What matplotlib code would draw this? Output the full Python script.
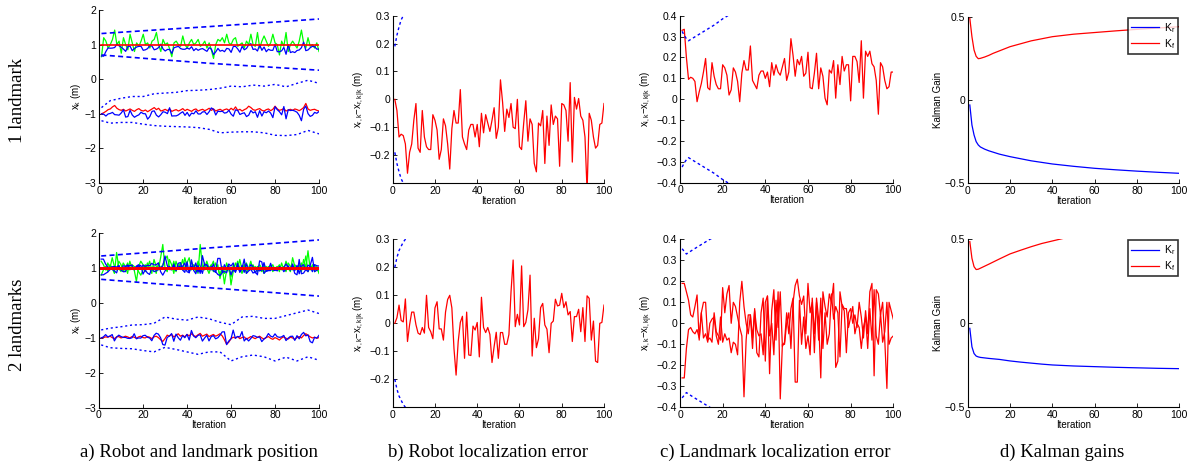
import numpy as np
import matplotlib
matplotlib.use("Agg")
import matplotlib.pyplot as plt

plt.rcParams['font.family'] = ['Liberation Sans', 'DejaVu Sans']
plt.rcParams['mathtext.fontset'] = 'custom'
plt.rcParams['mathtext.rm'] = 'Liberation Sans'
plt.rcParams['mathtext.it'] = 'Liberation Sans:italic'

W, H = 1196, 472
it = np.arange(1, 101)

# ---------------- 1 landmark ----------------
meas_1 = [0.65, 1.20, 1.10, 0.90, 1.00, 1.15, 1.42, 1.00, 1.10, 0.75,
          1.20, 1.00, 0.85, 1.30, 1.05, 0.80, 1.05, 0.95, 1.10, 1.30,
          1.00, 1.05, 0.90, 1.10, 1.15, 1.35, 1.00, 0.80, 1.15, 1.00,
          1.05, 0.88, 0.65, 1.05, 1.10, 1.00, 0.95, 1.25, 1.00, 0.90,
          1.05, 1.15, 1.00, 1.05, 1.15, 0.95, 1.00, 1.10, 0.90, 1.05,
          0.85, 0.60, 1.00, 1.15, 1.10, 1.20, 1.05, 1.30, 1.05, 1.00,
          1.15, 1.20, 0.95, 1.00, 1.05, 0.90, 1.10, 1.00, 1.30, 1.00,
          0.95, 1.35, 0.90, 1.10, 1.25, 1.10, 0.95, 1.05, 1.30, 1.05,
          1.00, 0.70, 1.10, 0.95, 1.35, 0.80, 1.00, 1.10, 1.00, 0.90,
          1.10, 1.42, 1.05, 0.90, 1.20, 0.95, 1.00, 0.90, 1.05, 0.80]

robot_true_1 = [-1.00, -0.97, -0.93, -0.88, -0.86, -0.80, -0.76, -0.84, -0.88, -0.90,
                -0.87, -0.92, -0.89, -0.86, -0.90, -0.93, -0.88, -0.85, -0.90, -0.92,
                -0.89, -0.94, -0.90, -0.86, -0.82, -0.88, -0.84, -0.92, -0.90, -0.87,
                -0.91, -0.86, -0.93, -0.90, -0.88, -0.92, -0.89, -0.85, -0.91, -0.87,
                -0.90, -0.93, -0.88, -0.86, -0.92, -0.89, -0.87, -0.91, -0.88, -0.84,
                -0.90, -0.86, -0.92, -0.89, -0.87, -0.91, -0.88, -0.86, -0.90, -0.84,
                -0.89, -0.80, -0.90, -0.87, -0.92, -0.88, -0.85, -0.78, -0.82, -0.88,
                -0.90, -0.87, -0.85, -0.90, -0.92, -0.88, -0.86, -0.91, -0.87, -0.78,
                -0.86, -0.90, -0.88, -0.85, -0.92, -0.89, -0.87, -0.90, -0.86, -0.88,
                -0.91, -0.87, -0.82, -0.70, -0.86, -0.90, -0.88, -0.87, -0.90, -0.92]

err_robot_1 = [0.0, -0.04, -0.135, -0.125, -0.13, -0.16, -0.265, -0.19, -0.16, -0.075,
               -0.015, -0.175, -0.19, -0.04, -0.135, -0.17, -0.18, -0.18, -0.055, -0.075,
               -0.11, -0.215, -0.18, -0.07, -0.095, -0.16, -0.25, -0.105, -0.04, -0.085,
               -0.085, 0.035, -0.135, -0.16, -0.18, -0.11, -0.09, -0.09, -0.135, -0.09,
               -0.17, -0.05, -0.12, -0.055, -0.085, -0.115, -0.075, -0.03, -0.14, -0.1,
               0.07, -0.01, -0.115, -0.035, -0.065, -0.015, -0.1, -0.105, 0.0, -0.17,
               -0.18, -0.085, -0.005, -0.15, -0.07, -0.09, -0.23, -0.26, -0.085, -0.095,
               -0.04, -0.23, -0.06, -0.165, -0.02, -0.09, -0.06, -0.07, -0.24, -0.015,
               -0.02, -0.04, -0.15, 0.06, -0.225, 0.007, -0.035, 0.003, -0.06, -0.075,
               -0.135, -0.33, -0.05, -0.075, -0.135, -0.175, -0.165, -0.09, -0.085, -0.015]

err_lm_1 = [0.33, 0.335, 0.2, 0.095, 0.105, 0.1, 0.085, -0.012, 0.035, 0.075,
            0.13, 0.195, 0.055, 0.045, 0.175, 0.11, 0.07, 0.05, 0.05, 0.165,
            0.15, 0.115, 0.02, 0.045, 0.15, 0.13, 0.085, -0.012, 0.125, 0.185,
            0.14, 0.14, 0.255, 0.09, 0.07, 0.05, 0.115, 0.135, 0.135, 0.1,
            0.13, 0.06, 0.175, 0.115, 0.165, 0.13, 0.115, 0.155, 0.195, 0.09,
            0.13, 0.29, 0.21, 0.11, 0.19, 0.165, 0.205, 0.11, 0.125, 0.225,
            0.055, 0.05, 0.125, 0.22, 0.05, 0.15, 0.11, 0.005, -0.027, 0.14,
            0.125, 0.185, 0.005, 0.165, 0.07, 0.205, 0.135, 0.165, 0.165, -0.008,
            0.205, 0.205, 0.18, 0.08, 0.28, 0.005, 0.23, 0.205, 0.23, 0.17,
            0.155, 0.09, -0.072, 0.175, 0.155, 0.09, 0.05, 0.06, 0.13, 0.13]

lm_bound_it = [1, 25, 50, 75, 100]
lm_upper_1 = [1.32, 1.42, 1.52, 1.63, 1.74]
lm_lower_1 = [0.70, 0.58, 0.46, 0.36, 0.26]

rb_bound_it = [1, 5, 10, 15, 20, 25, 30, 35, 40, 45, 50, 55, 60, 65, 70, 75, 80, 85, 90, 95, 100]
rb_upper_1 = [-0.82, -0.62, -0.55, -0.50, -0.50, -0.42, -0.40, -0.38, -0.33, -0.32, -0.30,
              -0.26, -0.20, -0.22, -0.17, -0.20, -0.15, -0.22, -0.12, -0.03, -0.12]
rb_lower_1 = [-1.20, -1.27, -1.25, -1.25, -1.30, -1.34, -1.36, -1.37, -1.38, -1.40, -1.45,
              -1.55, -1.53, -1.52, -1.52, -1.55, -1.62, -1.63, -1.60, -1.48, -1.58]

sig_rb_it_1 = [1, 2, 3, 4, 5, 6, 7]
sig_rb_1 = [0.19, 0.23, 0.26, 0.285, 0.30, 0.31, 0.32]
sig_lm_it_1 = [1, 2, 3, 4, 8, 12, 16, 20, 24]
sig_lm_1 = [0.325, 0.305, 0.29, 0.28, 0.305, 0.33, 0.355, 0.385, 0.41]

gain_it_1 = [1, 2, 3, 4, 5, 6, 8, 10, 12, 15, 20, 30, 40, 50, 60, 70, 80, 90, 100]
k_r_1 = [-0.03, -0.15, -0.21, -0.25, -0.27, -0.282, -0.295, -0.305, -0.313, -0.325, -0.34,
         -0.365, -0.384, -0.398, -0.41, -0.419, -0.427, -0.434, -0.44]
k_f_1 = [0.49, 0.38, 0.30, 0.262, 0.248, 0.25, 0.258, 0.268, 0.28, 0.295, 0.32,
         0.355, 0.38, 0.395, 0.405, 0.415, 0.424, 0.432, 0.44]

# ---------------- 2 landmarks ----------------
meas_2a = [0.80, 0.95, 1.05, 0.90, 1.10, 1.00, 0.85, 1.45, 1.00, 0.90,
           1.15, 1.05, 0.85, 1.20, 1.00, 0.95, 0.62, 1.05, 1.20, 1.10,
           0.90, 1.15, 1.00, 0.85, 1.25, 1.05, 0.95, 1.30, 1.68, 1.00,
           0.90, 1.25, 1.10, 0.85, 1.20, 1.00, 1.15, 0.95, 1.30, 1.05,
           0.90, 1.20, 1.00, 1.10, 0.85, 1.68, 1.05, 0.95, 1.20, 1.00,
           1.10, 0.90, 1.15, 1.00, 0.80, 1.05, 0.55, 0.95, 1.10, 0.52,
           0.90, 1.15, 1.00, 1.25, 0.95, 1.10, 0.85, 1.00, 1.20, 0.95,
           1.05, 0.90, 1.10, 1.00, 0.85, 1.05, 0.95, 1.10, 0.90, 1.00,
           1.05, 0.90, 1.15, 0.95, 1.20, 1.00, 0.90, 1.30, 1.05, 0.95,
           1.10, 0.90, 1.25, 1.00, 1.50, 0.95, 1.10, 0.90, 1.05, 0.85]
meas_2b = [1.20, 1.10, 0.95, 1.15, 1.00, 1.30, 1.05, 0.95, 1.20, 1.10,
           0.90, 1.00, 1.15, 0.95, 1.10, 1.05, 1.00, 0.90, 0.80, 0.95,
           1.10, 1.00, 1.20, 0.95, 1.05, 0.85, 1.15, 1.00, 1.10, 1.25,
           1.35, 1.05, 0.95, 1.20, 0.90, 1.10, 1.00, 1.25, 0.95, 1.15,
           1.30, 0.95, 1.10, 0.90, 1.20, 1.05, 0.95, 1.15, 1.00, 0.85,
           1.05, 1.20, 0.90, 1.10, 0.70, 1.00, 0.85, 1.15, 0.95, 0.75,
           1.10, 0.95, 1.20, 1.00, 0.85, 1.05, 1.15, 0.95, 1.00, 1.10,
           0.95, 1.05, 1.00, 0.90, 1.10, 0.95, 1.05, 1.00, 1.10, 0.95,
           1.00, 1.10, 0.95, 1.05, 0.90, 1.15, 1.05, 0.95, 1.10, 1.00,
           0.95, 1.15, 1.00, 1.35, 0.90, 1.05, 1.00, 1.10, 0.95, 0.90]

robot_true_2 = [-1.00, -0.99, -0.97, -0.98, -0.95, -0.99, -1.02, -0.97, -0.96, -1.00,
                -0.98, -0.95, -0.97, -1.00, -0.96, -0.98, -1.01, -0.97, -0.95, -0.99,
                -1.00, -0.96, -0.98, -1.02, -0.97, -0.95, -0.99, -1.05, -1.10, -1.02,
                -0.92, -0.95, -0.90, -0.97, -0.93, -0.88, -0.95, -0.92, -0.97, -0.90,
                -0.94, -0.88, -0.93, -0.96, -0.91, -0.87, -0.95, -0.92, -0.89, -0.96,
                -0.93, -0.90, -0.95, -0.92, -0.88, -0.94, -1.05, -1.18, -1.12, -1.02,
                -0.98, -1.00, -0.96, -1.02, -0.99, -0.97, -1.03, -1.00, -0.96, -0.99,
                -1.02, -0.98, -0.95, -1.00, -1.03, -0.99, -0.96, -1.01, -1.04, -0.99,
                -1.02, -1.06, -1.00, -0.97, -1.01, -1.03, -0.98, -1.00, -1.04, -0.99,
                -0.96, -1.00, -0.93, -0.88, -0.92, -0.97, -1.00, -0.98, -1.01, -0.99]

err_robot_2 = [0.0, 0.02, 0.065, 0.01, 0.005, 0.087, -0.065, -0.005, 0.04, 0.04,
               -0.005, -0.035, -0.04, -0.015, -0.035, 0.1, -0.015, -0.03, -0.055, 0.055,
               0.077, -0.02, -0.02, -0.06, 0.04, 0.085, 0.1, 0.055, -0.09, -0.185,
               -0.065, 0.003, 0.025, -0.125, 0.04, -0.113, -0.115, -0.01, -0.024, 0.003,
               -0.12, 0.093, -0.015, -0.033, -0.015, -0.04, -0.14, -0.083, -0.032, -0.125,
               -0.033, -0.033, -0.075, -0.075, -0.04, 0.113, 0.226, -0.012, 0.032, -0.006,
               0.205, -0.012, 0.003, 0.048, 0.172, -0.117, 0.018, -0.087, -0.056, 0.056,
               0.071, -0.006, -0.021, -0.105, 0.0, 0.008, 0.086, 0.062, 0.065, 0.107,
               0.056, 0.077, 0.03, 0.042, -0.065, 0.024, 0.024, 0.05, -0.03, 0.056,
               -0.065, 0.098, 0.089, -0.06, 0.008, -0.135, -0.14, 0.0, 0.003, 0.065]

err_lm_2a = [0.19, 0.19, 0.15, 0.11, 0.04, 0.03, 0.08, 0.135, -0.08, 0.05,
             0.10, 0.10, -0.08, -0.07, -0.09, 0.05, -0.04, -0.06, -0.08, 0.17,
             0.05, 0.14, 0.18, 0.00, 0.10, 0.08, 0.03, -0.02, -0.06, -0.35,
             -0.08, 0.04, 0.04, -0.12, 0.07, -0.14, -0.16, 0.05, 0.12, -0.18,
             0.13, -0.24, 0.06, 0.16, -0.08, 0.15, -0.36, -0.10, -0.10, 0.00,
             0.05, -0.12, 0.10, 0.18, 0.21, 0.13, 0.09, 0.13, -0.05, 0.19,
             0.05, 0.10, -0.14, 0.12, 0.02, -0.26, 0.15, 0.08, 0.03, 0.14,
             0.10, 0.19, -0.21, -0.18, 0.15, 0.08, 0.06, -0.14, 0.05, 0.07,
             0.00, 0.04, -0.02, 0.10, 0.03, -0.07, 0.06, -0.05, 0.15, 0.19,
             -0.25, 0.16, 0.14, 0.04, 0.10, -0.08, -0.31, 0.10, 0.06, 0.02]
err_lm_2b = [-0.26, -0.26, -0.12, -0.03, -0.02, -0.04, -0.05, -0.03, -0.07, 0.05,
             -0.07, -0.05, -0.09, 0.00, 0.02, 0.03, -0.06, -0.10, 0.03, -0.09,
             -0.05, -0.08, -0.07, -0.14, -0.09, -0.10, -0.15, 0.10, 0.20, 0.08,
             0.00, -0.05, 0.04, -0.07, 0.06, -0.03, -0.06, -0.05, -0.15, 0.10,
             0.13, -0.06, 0.00, -0.15, 0.11, -0.02, 0.15, -0.11, -0.09, 0.05,
             -0.05, 0.07, 0.12, -0.28, -0.28, 0.11, -0.10, 0.03, -0.12, -0.06,
             -0.15, 0.12, -0.05, 0.10, -0.08, 0.12, -0.12, 0.05, -0.10, -0.05,
             0.14, 0.02, 0.08, 0.05, -0.16, 0.09, 0.07, 0.07, -0.02, 0.03,
             0.08, -0.05, 0.00, -0.02, -0.12, -0.02, 0.03, -0.12, 0.07, -0.08,
             0.16, -0.06, -0.10, 0.05, -0.09, -0.04, 0.10, -0.10, -0.07, -0.06]

lm_upper_2 = [1.35, 1.46, 1.58, 1.69, 1.81]
lm_lower_2 = [0.68, 0.56, 0.44, 0.32, 0.20]
rb_upper_2 = [-0.77, -0.72, -0.68, -0.63, -0.62, -0.58, -0.40, -0.46, -0.49, -0.40, -0.45,
              -0.55, -0.62, -0.40, -0.38, -0.44, -0.44, -0.36, -0.28, -0.20, -0.30]
rb_lower_2 = [-1.20, -1.28, -1.30, -1.31, -1.36, -1.40, -1.27, -1.33, -1.40, -1.47, -1.40,
              -1.40, -1.66, -1.54, -1.49, -1.54, -1.66, -1.55, -1.66, -1.54, -1.64]

sig_rb_it_2 = [1, 2, 3, 4, 5, 6, 7, 8]
sig_rb_2 = [0.2, 0.235, 0.26, 0.275, 0.29, 0.30, 0.31, 0.32]
sig_lm_it_2 = [1, 3, 6, 10, 14, 16]
sig_lm_2 = [0.355, 0.33, 0.35, 0.375, 0.40, 0.41]

gain_it_2 = [1, 2, 3, 4, 5, 6, 8, 10, 15, 20, 25, 30, 35, 40, 45, 50, 60, 70, 80, 90, 100]
k_r_2 = [-0.03, -0.14, -0.18, -0.195, -0.2, -0.203, -0.206, -0.209, -0.215, -0.224, -0.231,
         -0.237, -0.243, -0.248, -0.251, -0.254, -0.258, -0.262, -0.265, -0.268, -0.27]
k_f_2 = [0.486, 0.387, 0.337, 0.32, 0.322, 0.328, 0.34, 0.352, 0.383, 0.413, 0.435,
         0.456, 0.475, 0.49, 0.505, 0.52, 0.55, 0.58, 0.6, 0.62, 0.64]

row_titles = ['1 landmark', '2 landmarks']
captions = ['a) Robot and landmark position', 'b) Robot localization error',
            'c) Landmark localization error', 'd) Kalman gains']

BLUE, RED, GREEN = (0, 0, 1), (1, 0, 0), (0, 1, 0)
LW = 0.9


def rect(x0, x1, ytop, ybot):
    return [x0 / W, 1 - ybot / H, (x1 - x0) / W, (ybot - ytop) / H]


def style(ax, ylim, yticks, ylabels, ylabel):
    ax.set_xlim(0, 100)
    ax.set_ylim(*ylim)
    ax.set_xticks([0, 20, 40, 60, 80, 100])
    ax.set_yticks(yticks)
    ax.set_yticklabels(ylabels)
    for s in ['top', 'right']:
        ax.spines[s].set_visible(False)
    for s in ['left', 'bottom']:
        ax.spines[s].set_linewidth(0.8)
    ax.tick_params(direction='in', length=3, width=0.6, labelsize=7.5, pad=2)
    ax.set_xlabel('Iteration', fontsize=7, labelpad=0)
    ax.set_ylabel(ylabel, fontsize=7, labelpad=1)


fig = plt.figure(figsize=(W / 100, H / 100), dpi=100)

rows = [
    dict(meas=[meas_1], err_lm=[err_lm_1], rtrue=robot_true_1, err_r=err_robot_1,
         lmu=lm_upper_1, lml=lm_lower_1, rbu=rb_upper_1, rbl=rb_lower_1,
         srit=sig_rb_it_1, sr=sig_rb_1, slit=sig_lm_it_1, sl=sig_lm_1,
         git=gain_it_1, kr=k_r_1, kf=k_f_1, truelw=1.2,
         boxes=[(99.3, 319, 10, 183), (392.7, 604, 15.7, 183),
                (680, 893.3, 15.7, 182.7), (967.7, 1179.3, 16.7, 183.3)]),
    dict(meas=[meas_2a, meas_2b], err_lm=[err_lm_2a, err_lm_2b], rtrue=robot_true_2,
         err_r=err_robot_2, lmu=lm_upper_2, lml=lm_lower_2, rbu=rb_upper_2, rbl=rb_lower_2,
         srit=sig_rb_it_2, sr=sig_rb_2, slit=sig_lm_it_2, sl=sig_lm_2,
         git=gain_it_2, kr=k_r_2, kf=k_f_2, truelw=2.0,
         boxes=[(99, 319, 233.3, 407.7), (392.7, 604, 239.3, 407.3),
                (680, 893.3, 239.3, 407.3), (967.7, 1179.3, 239.3, 407.3)]),
]

for r, d in enumerate(rows):
    axa, axb, axc, axd = [fig.add_axes(rect(*b)) for b in d['boxes']]

    # a) positions
    for m in d['meas']:
        axa.plot(it, m, color=GREEN, lw=LW)
    for e in d['err_lm']:
        axa.plot(it, 1 - np.array(e), color=BLUE, lw=LW)
    for e in d['err_lm']:
        axa.plot(it, np.ones(len(it)), color=RED, lw=d['truelw'])
    axa.plot(lm_bound_it, d['lmu'], color=BLUE, lw=1.2, ls=(0, (3, 2)))
    axa.plot(lm_bound_it, d['lml'], color=BLUE, lw=1.2, ls=(0, (3, 2)))
    rt = np.array(d['rtrue'])
    axa.plot(it, rt, color=RED, lw=LW)
    axa.plot(it, rt + np.array(d['err_r']), color=BLUE, lw=LW)
    axa.plot(rb_bound_it, d['rbu'], color=BLUE, lw=1.0, ls=(0, (1.5, 2)))
    axa.plot(rb_bound_it, d['rbl'], color=BLUE, lw=1.0, ls=(0, (1.5, 2)))
    style(axa, (-3, 2), [-3, -2, -1, 0, 1, 2], ['\u22123', '\u22122', '\u22121', '0', '1', '2'],
          r'$\mathregular{x_k}$ (m)')

    # b) robot error
    axb.plot(it, d['err_r'], color=RED, lw=LW)
    axb.plot(d['srit'], d['sr'], color=BLUE, lw=1.0, ls=(0, (2, 2)))
    axb.plot(d['srit'], -np.array(d['sr']), color=BLUE, lw=1.0, ls=(0, (2, 2)))
    style(axb, (-0.3, 0.3), [-0.2, -0.1, 0, 0.1, 0.2, 0.3],
          ['\u22120.2', '\u22120.1', '0', '0.1', '0.2', '0.3'],
          r'$\mathregular{x_{r,k}}$$-$$\mathregular{x_{r,k|k}}$ (m)')

    # c) landmark error
    for e in d['err_lm']:
        axc.plot(it, e, color=RED, lw=LW)
    axc.plot(d['slit'], d['sl'], color=BLUE, lw=1.0, ls=(0, (2, 2)))
    axc.plot(d['slit'], -np.array(d['sl']), color=BLUE, lw=1.0, ls=(0, (2, 2)))
    cticks = [-0.4, -0.3, -0.2, -0.1, 0, 0.1, 0.2, 0.3, 0.4]
    style(axc, (-0.4, 0.4), cticks,
          [('\u2212%g' % -t) if t < 0 else ('%g' % t) for t in cticks],
          r'$\mathregular{x_{l,k}}$$-$$\mathregular{x_{l,k|k}}$ (m)')

    # d) Kalman gains
    axd.plot(d['git'], d['kr'], color=BLUE, lw=LW, label=r'$\mathregular{K_r}$')
    axd.plot(d['git'], d['kf'], color=RED, lw=LW, label=r'$\mathregular{K_f}$')
    style(axd, (-0.5, 0.5), [-0.5, 0, 0.5], ['\u22120.5', '0', '0.5'], 'Kalman Gain')
    leg = axd.legend(loc='upper right', fontsize=7.5, frameon=True, fancybox=False,
                     borderaxespad=0.1, handlelength=2.6, handletextpad=0.5,
                     borderpad=0.3, labelspacing=0.2)
    leg.get_frame().set_edgecolor('black')
    leg.get_frame().set_linewidth(1.2)

    fig.text(18 / W, 1 - (100 + 225 * r) / H, row_titles[r], rotation=90,
             ha='center', va='center', fontsize=13.5, family='Liberation Serif')

for cx, cap in zip([199, 488, 775, 1062], captions):
    fig.text(cx / W, 1 - 452 / H, cap, ha='center', va='center', fontsize=13.5,
             family='Liberation Serif')

fig.savefig('out.png', dpi=100)
